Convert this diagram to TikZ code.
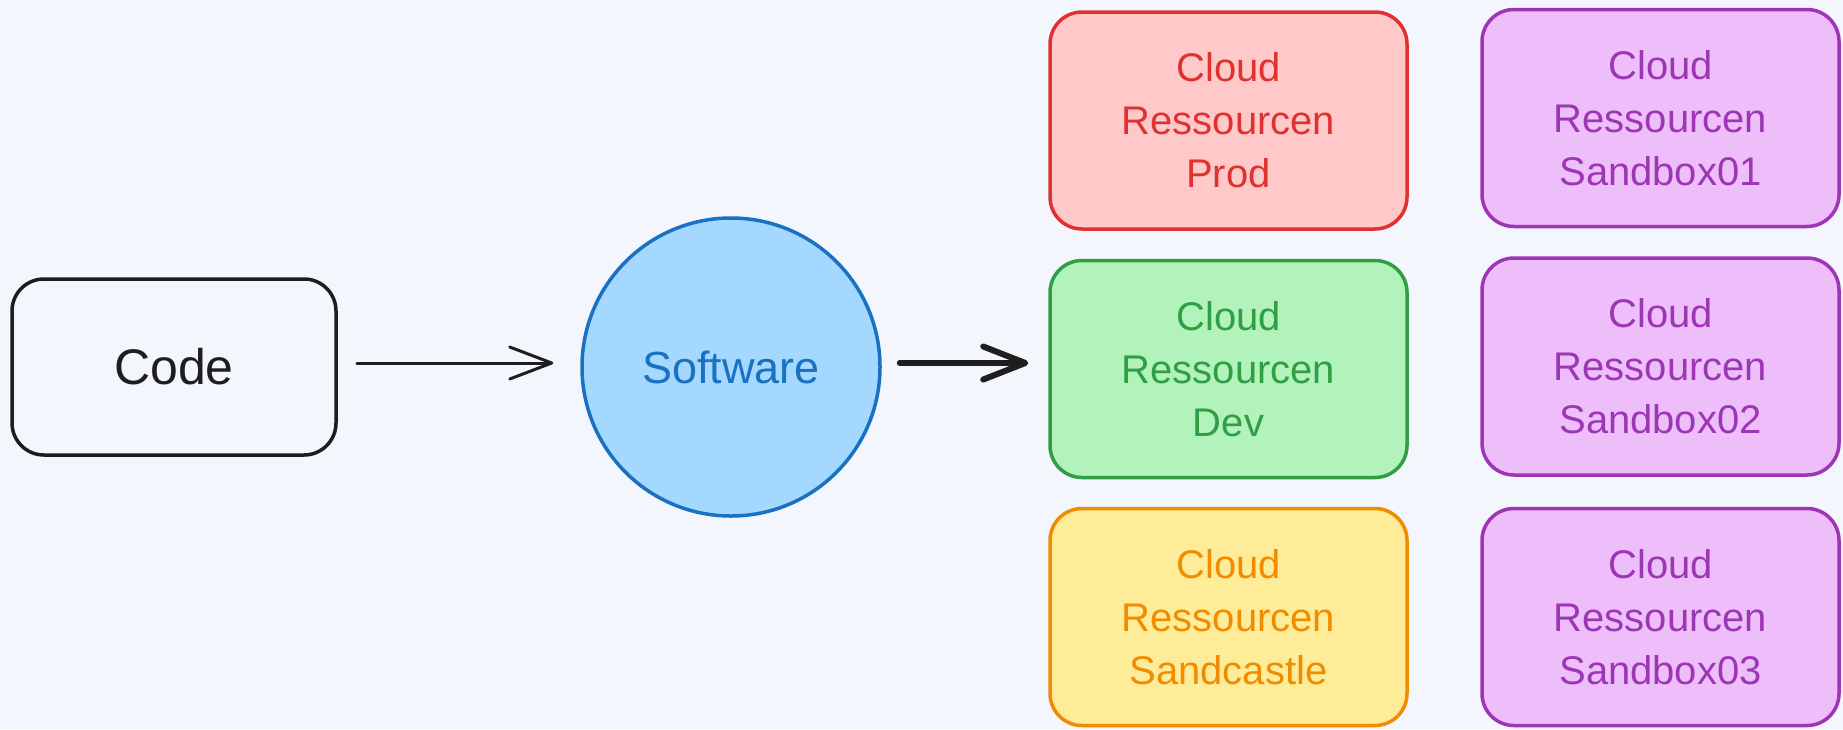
\documentclass[tikz,border=0pt]{standalone}
\usepackage{fontspec}
\setmainfont{Liberation Sans}
\usetikzlibrary{arrows.meta}
\definecolor{bg}{HTML}{F4F6FD}
\definecolor{ink}{HTML}{1E1E1E}
\definecolor{bluefill}{HTML}{A5D8FF}
\definecolor{bluestroke}{HTML}{1971C2}
\definecolor{redfill}{HTML}{FFC9C9}
\definecolor{redstroke}{HTML}{E03131}
\definecolor{greenfill}{HTML}{B2F2BB}
\definecolor{greenstroke}{HTML}{2F9E44}
\definecolor{yellowfill}{HTML}{FFEC99}
\definecolor{yellowstroke}{HTML}{F08C00}
\definecolor{purplefill}{HTML}{EEBEFA}
\definecolor{purplestroke}{HTML}{9C36B5}
\tikzset{
  cloudbox/.style n args={2}{rectangle, rounded corners=32pt, draw=#2, fill=#1, text=#2,
    line width=3.5pt, minimum width=357pt, minimum height=217pt, inner sep=0pt,
    align=center, font=\fontsize{40}{53}\selectfont},
  codebox/.style={rectangle, rounded corners=32pt, draw=ink, line width=3.5pt, text=ink,
    minimum width=324pt, minimum height=176pt, inner sep=0pt, font=\fontsize{50}{56}\selectfont},
  softcircle/.style={circle, draw=bluestroke, fill=bluefill, text=bluestroke, line width=3.5pt,
    minimum size=298pt, inner sep=0pt, font=\fontsize{45}{50}\selectfont},
  thinarrow/.style={draw=ink, line width=3pt, line cap=round,
    -{Straight Barb[length=42pt,width=32pt,line width=3pt,round]}},
  thickarrow/.style={draw=ink, line width=6pt, line cap=round,
    -{Straight Barb[length=42pt,width=33pt,line width=6pt,round]}}
}
\begin{document}
\begin{tikzpicture}[x=1pt,y=-1pt]
\fill[bg] (0,0) rectangle (1843,729);
\useasboundingbox (0,0) rectangle (1843,729);
\node[codebox] (code) at (174,367) {Code};
\node[softcircle] (soft) at (731,367) {Software};
\node[cloudbox={redfill}{redstroke}] (prod) at (1228.5,120.5) {Cloud\\Ressourcen\\Prod};
\node[cloudbox={greenfill}{greenstroke}] (dev) at (1228.5,369) {Cloud\\Ressourcen\\Dev};
\node[cloudbox={yellowfill}{yellowstroke}] (sandcastle) at (1228.5,617) {Cloud\\Ressourcen\\Sandcastle};
\node[cloudbox={purplefill}{purplestroke}] (sb1) at (1660.5,118) {Cloud\\Ressourcen\\Sandbox01};
\node[cloudbox={purplefill}{purplestroke}] (sb2) at (1660.5,366.5) {Cloud\\Ressourcen\\Sandbox02};
\node[cloudbox={purplefill}{purplestroke}] (sb3) at (1660.5,617) {Cloud\\Ressourcen\\Sandbox03};
\draw[thinarrow, shorten <=19pt, shorten >=27pt] ([yshift=4pt]code.east) -- ([yshift=4pt]soft.west);
\draw[thickarrow, shorten <=18pt, shorten >=20pt] ([yshift=4pt]soft.east) -- ([yshift=6pt]dev.west);
\end{tikzpicture}
\end{document}
